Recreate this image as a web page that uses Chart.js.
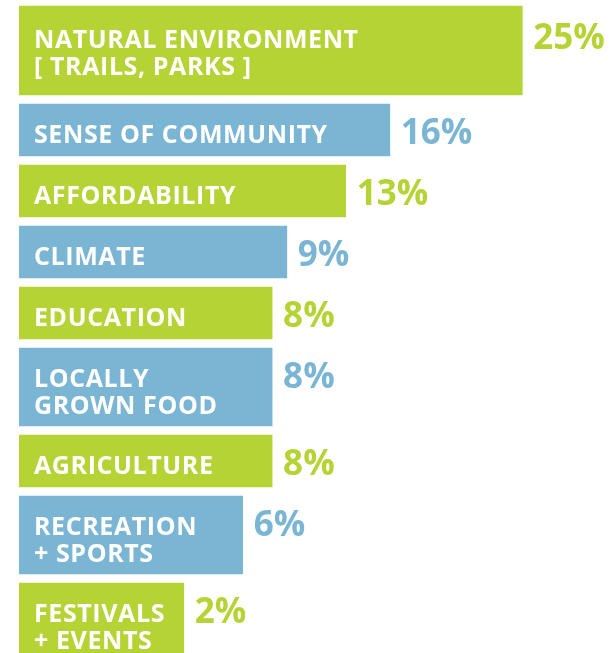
<!DOCTYPE html>
<html>
<head>
<meta charset="utf-8">
<script src="https://cdn.jsdelivr.net/npm/chart.js@4.4.0/dist/chart.umd.min.js"></script>
<style>
    html, body { margin: 0; padding: 0; background: #fff; }
    canvas { display: block; }
</style>
</head>
<body>
<canvas id="reasonsChart" width="615" height="653"></canvas>
<script>
// Data
const categories = [
    ['NATURAL ENVIRONMENT', '[ TRAILS, PARKS ]'],
    ['SENSE OF COMMUNITY'],
    ['AFFORDABILITY'],
    ['CLIMATE'],
    ['EDUCATION'],
    ['LOCALLY', 'GROWN FOOD'],
    ['AGRICULTURE'],
    ['RECREATION', '+ SPORTS'],
    ['FESTIVALS', '+ EVENTS']
];
const shares = [25, 16, 13, 9, 8, 8, 8, 6, 2];
const shareLabels = ['25%', '16%', '13%', '9%', '8%', '8%', '8%', '6%', '2%'];

// Axis range (bars start a bit left of zero, like the original artwork)
const X_MIN = -9.2;
const X_MAX = 31.3;

const GREEN = '#b5d334';
const BLUE = '#7bb5d4';
const FONT = '"Open Sans", "DejaVu Sans", sans-serif';

const CHART_H = 653;
const TOP = 6;
const GAP = 9;
const BAR_PAD = 26;
const LINE_H = 26;
const LEAD_EXTRA = 11; // the top bar is a little taller

// bar thickness depends on how many lines the label needs
let cursor = TOP;
const rows = categories.map((lines, i) => {
    const h = BAR_PAD + LINE_H * lines.length + (i === 0 ? LEAD_EXTRA : 0);
    const row = { h: h, c: cursor + h / 2 };
    cursor += h + GAP;
    return row;
});

const barLabels = {
    id: 'barLabels',
    afterDatasetsDraw(chart) {
        const ctx = chart.ctx;
        ctx.save();
        ctx.textBaseline = 'alphabetic';
        ctx.textAlign = 'left';
        chart.data.datasets.forEach((ds, i) => {
            const bar = chart.getDatasetMeta(i).data[0];
            if (!bar) return;
            const top = bar.y - bar.height / 2;
            const baseLine = top + (i === 0 ? 42 : 39);

            ctx.fillStyle = '#ffffff';
            ctx.font = '700 25px ' + FONT;
            ctx.letterSpacing = '0.6px';
            categories[i].forEach((line, k) => {
                ctx.fillText(line, bar.base + 15, baseLine + k * 27);
            });

            ctx.fillStyle = ds.backgroundColor;
            ctx.font = '700 35px ' + FONT;
            ctx.letterSpacing = '0px';
            ctx.fillText(shareLabels[i], bar.x + 11, baseLine + 1);
        });
        ctx.restore();
    }
};

const ctx = document.getElementById('reasonsChart');
new Chart(ctx, {
    type: 'bar',
    data: {
        datasets: categories.map((lines, i) => ({
            label: lines.join(' '),
            data: [{ x: shares[i], y: rows[i].c }],
            base: X_MIN,
            grouped: false,
            barThickness: rows[i].h,
            backgroundColor: i % 2 === 0 ? GREEN : BLUE,
            borderWidth: 0
        }))
    },
    options: {
        indexAxis: 'y',
        responsive: false,
        animation: false,
        layout: { padding: { left: 19, right: 0, top: 0, bottom: 0 } },
        scales: {
            x: { type: 'linear', min: X_MIN, max: X_MAX, display: false },
            y: { type: 'linear', min: 0, max: CHART_H, reverse: true, offset: false, display: false }
        },
        plugins: {
            legend: { display: false },
            tooltip: { enabled: false }
        }
    },
    plugins: [barLabels]
});
</script>
</body>
</html>
